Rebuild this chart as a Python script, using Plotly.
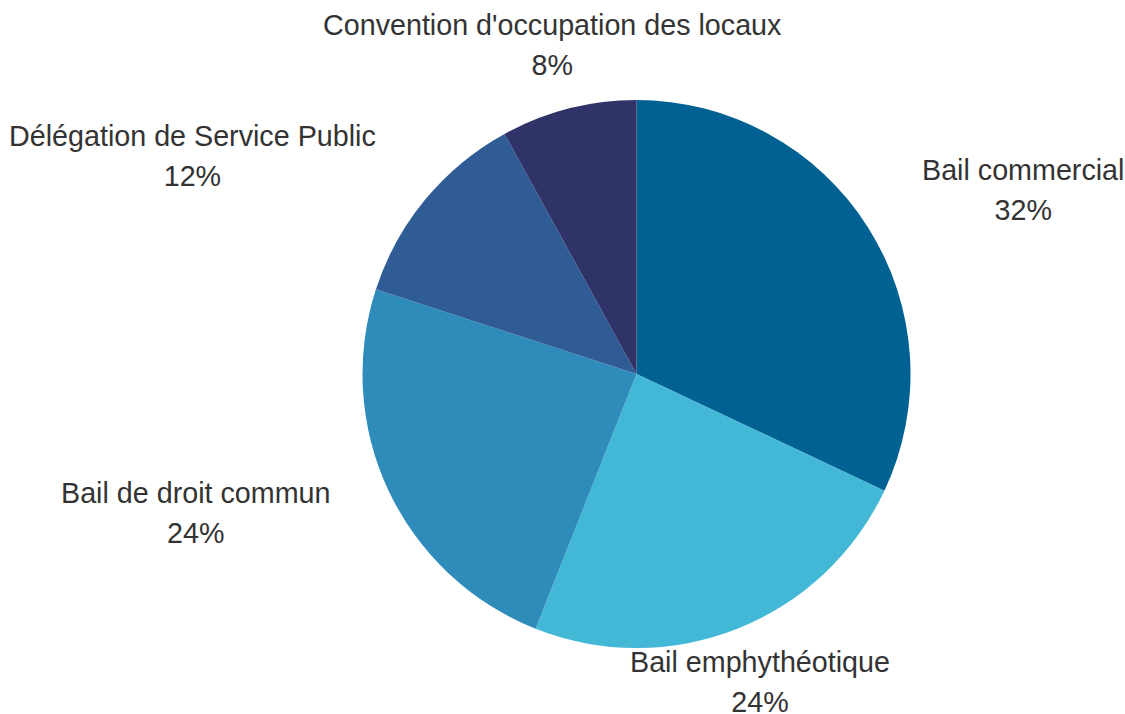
import math
import plotly.graph_objects as go

labels = ["Bail commercial", "Bail emphythéotique", "Bail de droit commun",
          "Délégation de Service Public", "Convention d'occupation des locaux"]
values = [32, 24, 24, 12, 8]
colors = ["#006192", "#42B7D6", "#2E8BBA", "#2F5C95", "#2F3368"]

W, H = 1125, 714

# pie geometry in window pixels
CX, CY, RAD = 636.5, 374.0, 274.0
dom_x = [(CX - RAD) / W, (CX + RAD) / W]
dom_y = [1 - (CY + RAD) / H, 1 - (CY - RAD) / H]

fig = go.Figure(go.Pie(
    labels=labels, values=values, sort=False, direction="clockwise", rotation=0,
    marker=dict(colors=colors, line=dict(width=0)),
    textinfo="none", hoverinfo="label+percent", showlegend=False,
    domain=dict(x=dom_x, y=dom_y),
))

# label placement derived from slice mid-angles
R = RAD + 62
total = sum(values)
cum = 0
annotations = []
for lab, v in zip(labels, values):
    mid = (cum + v / 2) / total * 2 * math.pi
    cum += v
    s, c = math.sin(mid), math.cos(mid)
    px = CX + R * s
    py = CY - R * c
    if s > 0.5:
        xa = "left"
    elif s < -0.5:
        xa = "right"
    else:
        xa = "center"
    pct = round(100 * v / total)
    txt = (f"<span style='font-size:28.7px'>{lab}</span><br>"
           f"<span style='font-size:28.7px'>{pct}%</span>")
    annotations.append(dict(
        x=px / W, y=1 - py / H, xref="paper", yref="paper", yshift=4,
        text=txt, showarrow=False, xanchor=xa, yanchor="middle", align="center",
        font=dict(family="Liberation Sans, Arial, sans-serif", size=31, color="#333333"),
    ))

fig.update_layout(
    width=W, height=H,
    margin=dict(l=0, r=0, t=0, b=0),
    paper_bgcolor="white", plot_bgcolor="white",
    annotations=annotations,
)

fig.write_html(
    "out.html",
    config={"displayModeBar": False},
    post_script="document.body.style.margin='0';document.body.style.overflow='hidden';",
)
